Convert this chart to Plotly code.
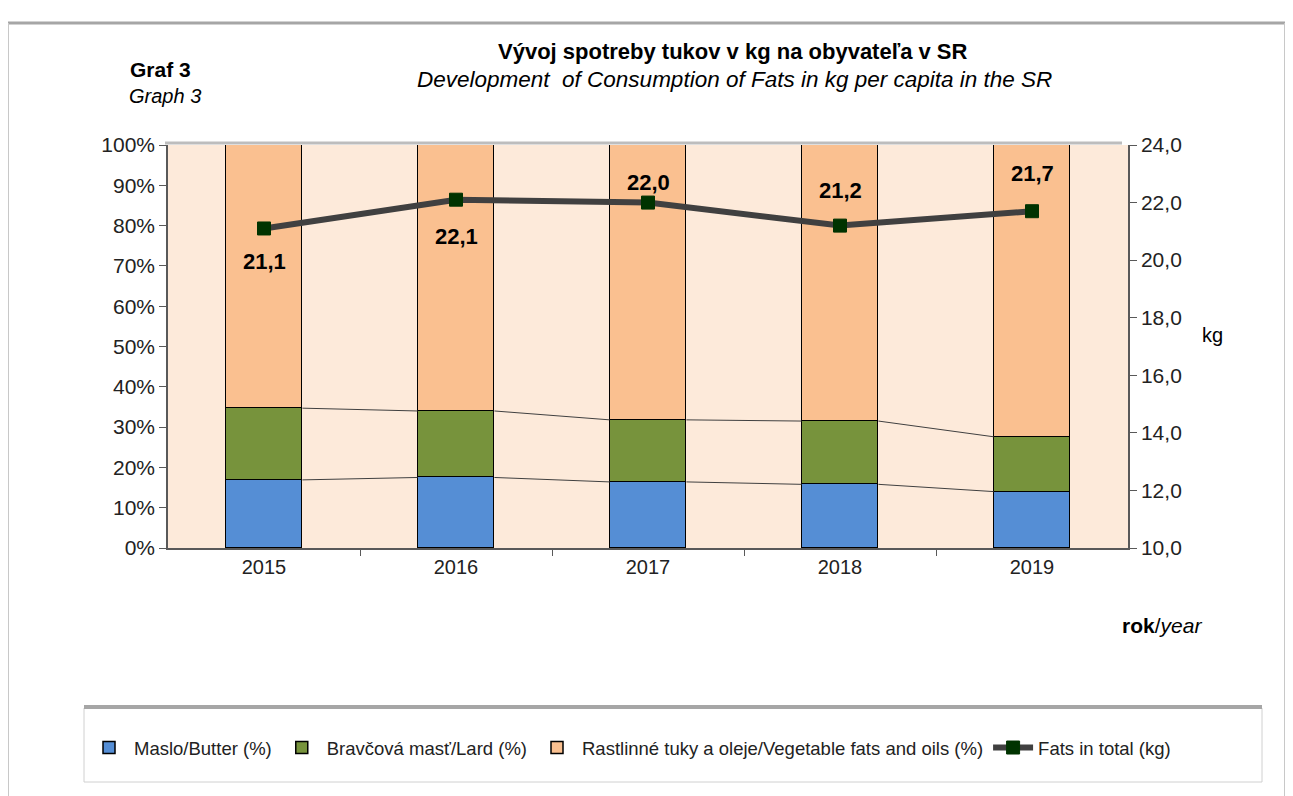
import plotly.graph_objects as go

years = ["2015", "2016", "2017", "2018", "2019"]
butter = [16.9, 17.5, 16.4, 15.8, 14.0]
lard = [17.8, 16.5, 15.4, 15.7, 13.6]
veg = [round(100 - b - l, 1) for b, l in zip(butter, lard)]
total_kg = [21.1, 22.1, 22.0, 21.2, 21.7]
pct_ticks = list(range(0, 101, 10))
kg_ticks = [10, 12, 14, 16, 18, 20, 22, 24]

names = ["Maslo/Butter (%)", "Bravčová masť/Lard (%)",
         "Rastlinné tuky a oleje/Vegetable fats and oils (%)", "Fats in total (kg)"]

FONT = "Liberation Sans, Arial, sans-serif"
xs = list(range(len(years)))
BW = 0.4


def px(x):
    return (x - 168) / 960


def py(y):
    return (548 - y) / 403


fig = go.Figure()
colors = ["#558ED5", "#77933C", "#FAC090"]
for vals, nm, c in zip([butter, lard, veg], names[:3], colors):
    fig.add_trace(go.Bar(x=xs, y=vals, name=nm, width=BW,
                         marker=dict(color=c, line=dict(color="#000000", width=1.5)), yaxis="y"))

# series lines connecting stacked segments
cum1 = butter
cum2 = [b + l for b, l in zip(butter, lard)]
for cum in (cum1, cum2):
    for i in range(len(xs) - 1):
        fig.add_trace(go.Scatter(x=[xs[i] + BW / 2, xs[i + 1] - BW / 2], y=[cum[i], cum[i + 1]],
                                 mode="lines", line=dict(color="#404040", width=1), showlegend=False,
                                 hoverinfo="skip", yaxis="y"))

fig.add_trace(go.Scatter(x=xs, y=total_kg, name=names[3], yaxis="y2", mode="lines+markers",
                         line=dict(color="#404040", width=6),
                         marker=dict(symbol="square", size=13, color="#003300",
                                     line=dict(color="#003300", width=1))))

label_shift = [-33, -37, 20, 35, 38]
for x, v, s in zip(xs, total_kg, label_shift):
    fig.add_annotation(x=x, y=v, xref="x", yref="y2",
                       text="<b>" + f"{v:.1f}".replace(".", ",") + "</b>",
                       showarrow=False, yshift=s, font=dict(size=22, color="#000000", family=FONT))

fig.update_layout(
    width=1293, height=796,
    margin=dict(l=160, r=173, t=137, b=256, autoexpand=False),
    paper_bgcolor="#FFFFFF", plot_bgcolor="#FDEADA",
    barmode="stack", bargap=0,
    separators=", ",
    font=dict(family=FONT, size=18, color="#000000"),
    xaxis=dict(range=[-0.5, 4.5], tickvals=xs, ticktext=years, ticks="", showgrid=False,
               showline=True, linecolor="#595959", linewidth=1.5, zeroline=False,
               tickfont=dict(size=20, color="#222222"),
               minor=dict(tickmode="array", tickvals=[0.5, 1.5, 2.5, 3.5], ticks="outside", ticklen=6,
                          tickcolor="#595959", showgrid=False)),
    yaxis=dict(range=[0, 100], tickvals=pct_ticks, ticktext=[f"{t}%" for t in pct_ticks],
               ticks="outside", ticklen=7,
               tickcolor="#595959", showgrid=False, showline=True, linecolor="#595959", linewidth=1.5,
               zeroline=False, tickfont=dict(size=21, color="#222222")),
    yaxis2=dict(range=[10, 24], tickvals=kg_ticks, ticktext=[f"{t:.1f}".replace(".", ",") for t in kg_ticks],
                overlaying="y",
                side="right", ticks="outside", ticklen=7, tickcolor="#595959", showgrid=False, showline=True,
                linecolor="#595959", linewidth=1.5, zeroline=False, tickfont=dict(size=21, color="#222222")),
    legend=dict(orientation="h", x=px(84), xanchor="left", y=py(748), yanchor="middle",
                traceorder="normal",
                font=dict(size=18.5, color="#222222"), bgcolor="rgba(0,0,0,0)", itemwidth=40),
    showlegend=True,
)

# frame and shadows
fig.add_shape(type="line", xref="paper", yref="paper", x0=px(8), x1=px(1285), y0=py(23), y1=py(23),
              line=dict(color="#A6A6A6", width=3))
fig.add_shape(type="line", xref="paper", yref="paper", x0=px(8), x1=px(8), y0=py(23), y1=py(805),
              line=dict(color="#C8C8C8", width=2))
fig.add_shape(type="line", xref="paper", yref="paper", x0=px(1285), x1=px(1285), y0=py(23), y1=py(805),
              line=dict(color="#C8C8C8", width=2))
# plot area top shadow
fig.add_shape(type="line", xref="paper", yref="paper", x0=px(165), x1=px(1122), y0=py(143), y1=py(143),
              line=dict(color="#BDBDBD", width=3))
# legend box with shadow
fig.add_shape(type="rect", xref="paper", yref="paper", x0=px(84), x1=px(1262), y0=py(782), y1=py(708),
              line=dict(color="#D0D0D0", width=1), fillcolor="rgba(0,0,0,0)")
fig.add_shape(type="line", xref="paper", yref="paper", x0=px(84), x1=px(1262), y0=py(707), y1=py(707),
              line=dict(color="#A6A6A6", width=4))


def ann(x, y, text, size, xanchor="center"):
    fig.add_annotation(x=px(x), y=py(y), xref="paper", yref="paper", text=text, showarrow=False,
                       xanchor=xanchor, yanchor="middle", font=dict(size=size, family=FONT, color="#000000"))


ann(733, 52, "<b>Vývoj spotreby tukov v kg na obyvateľa v SR</b>", 22)
ann(734, 80, "<i>Development  of Consumption of Fats in kg per capita in the SR</i>", 22.5)
ann(160, 70, "<b>Graf 3</b>", 21)
ann(165, 96, "<i>Graph 3</i>", 20)
ann(1212, 335, "kg", 20)
ann(1120, 625, "<b>rok</b>/<i>year</i>", 21, xanchor="left")

fig.write_html("out.html")
